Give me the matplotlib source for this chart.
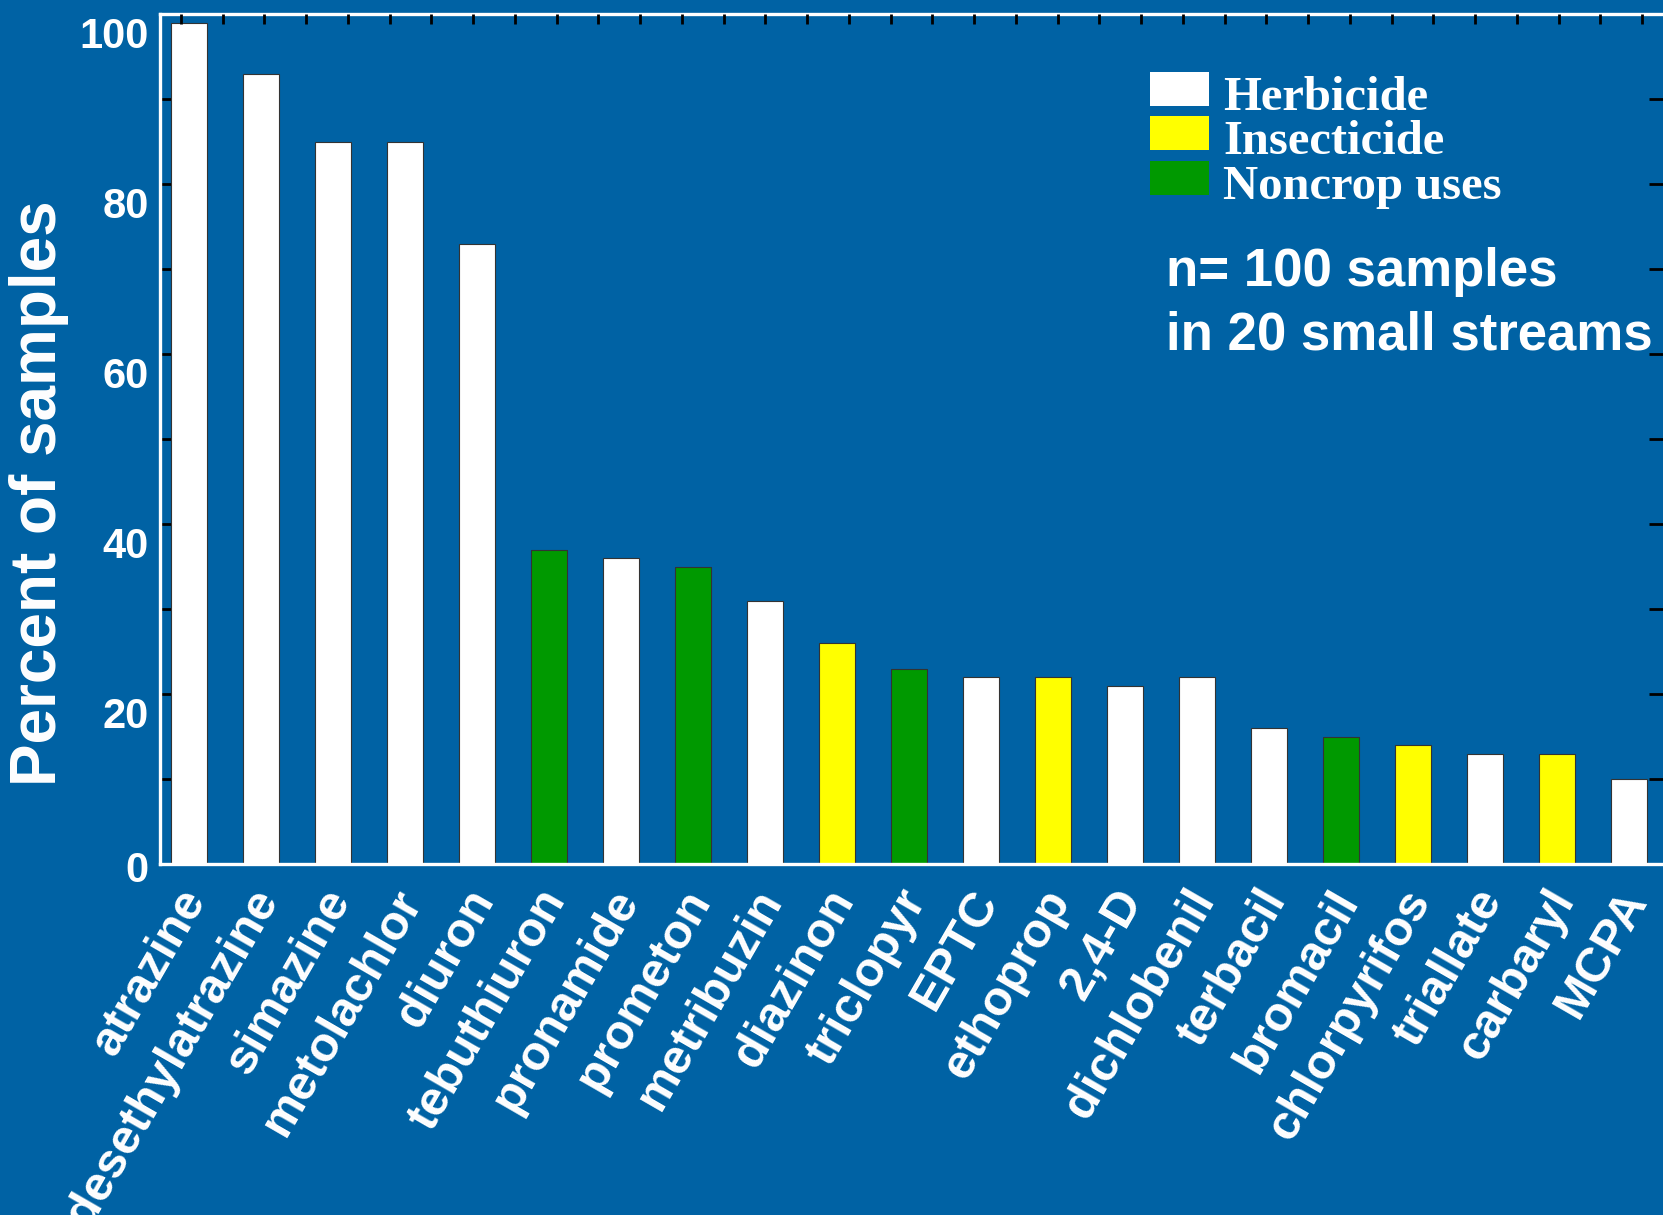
import matplotlib
matplotlib.use("Agg")
import matplotlib.pyplot as plt
from matplotlib.patches import Rectangle
from matplotlib.transforms import ScaledTranslation
import numpy as np

# pesticides detected, percent of samples, and use class
compounds = ["atrazine", "desethylatrazine", "simazine", "metolachlor", "diuron",
             "tebuthiuron", "pronamide", "prometon", "metribuzin", "diazinon",
             "triclopyr", "EPTC", "ethoprop", "2,4-D", "dichlobenil", "terbacil",
             "bromacil", "chlorpyrifos", "triallate", "carbaryl", "MCPA"]
percent = [99, 93, 85, 85, 73, 37, 36, 35, 31, 26, 23, 22, 22, 21, 22, 16, 15, 14, 13, 13, 10]
use_type = ["H", "H", "H", "H", "H", "N", "H", "N", "H", "I",
            "N", "H", "I", "H", "H", "H", "N", "I", "H", "I", "H"]

legend_labels = ["Herbicide", "Insecticide", "Noncrop uses"]
legend_keys = ["H", "I", "N"]
note_lines = ["n= 100 samples", "in 20 small streams"]

bg = "#0062a4"
colors = {"H": "#ffffff", "I": "#ffff00", "N": "#009900"}
sans = ["Liberation Sans", "DejaVu Sans"]
serif = ["Liberation Serif", "DejaVu Serif"]

W, H = 1663, 1215
fig = plt.figure(figsize=(W / 100, H / 100), dpi=100, facecolor=bg)


def fx(px):
    return px / W


def fy(py):
    return 1 - py / H


ax = fig.add_axes([fx(160), fy(864), 1 - fx(160), fy(14) - fy(864)])
ax.set_facecolor(bg)

x = np.arange(len(compounds))
ax.bar(x, percent, width=0.5, color=[colors[u] for u in use_type],
       edgecolor="#333333", linewidth=0.8, zorder=2)
ax.set_xlim(-0.4, 20.47)
ax.set_ylim(0, 100)

for side in ["left", "bottom", "top"]:
    ax.spines[side].set_color("white")
    ax.spines[side].set_linewidth(2.4)
ax.spines["right"].set_visible(False)

# y axis: labels every 20, ticks every 10 on both sides
ax.set_yticks(np.arange(0, 101, 20))
ax.set_yticks(np.arange(10, 100, 20), minor=True)
ax.tick_params(axis="y", which="both", direction="in", length=10, width=2,
               color="black", left=True, right=True, pad=8)
for lab, val in zip(ax.get_yticklabels(), ax.get_yticks()):
    lab.set_fontfamily(sans)
    lab.set_fontweight("bold")
    lab.set_fontsize(30)
    lab.set_color("white")
    shift = -0.03 if val == 0 else -0.18
    lab.set_transform(lab.get_transform() + ScaledTranslation(0, shift, fig.dpi_scale_trans))

ax.set_xticks(x)
ax.set_xticklabels(compounds, rotation=60, ha="right", va="center",
                   rotation_mode="anchor", fontsize=35, fontweight="bold",
                   color="white", family=sans)
ax.tick_params(axis="x", length=0, pad=21)
for lab in ax.get_xticklabels():
    lab.set_transform(lab.get_transform() + ScaledTranslation(0.07, 0, fig.dpi_scale_trans))

# small ticks along the top edge
ax2 = ax.twiny()
ax2.set_xlim(0, 36)
ax2.set_xticks(np.arange(0.5, 36, 1))
ax2.tick_params(axis="x", direction="in", length=7, width=2, color="black",
                top=True, labeltop=False)
for s in ax2.spines.values():
    s.set_visible(False)

fig.text(fx(39), fy(493), "Percent of samples", rotation=90, ha="center",
         va="center", fontsize=46, fontweight="bold", color="white", family=sans)

# legend
box_tops = [72, 116, 161]
for key, label, top in zip(legend_keys, legend_labels, box_tops):
    fig.patches.append(Rectangle((fx(1150), fy(top + 34)), fx(59), 34 / H,
                                 transform=fig.transFigure, facecolor=colors[key],
                                 edgecolor="none"))
    fig.text(fx(1223), fy(top + 38), label, ha="left", va="baseline",
             fontsize=35, fontweight="bold", color="white", family=serif)

for i, line in enumerate(note_lines):
    fig.text(fx(1166), fy(272 + 63 * i), line, ha="left", va="center",
             fontsize=38, fontweight="bold", color="white", family=sans)

fig.savefig("out.png", dpi=100, facecolor=bg)
